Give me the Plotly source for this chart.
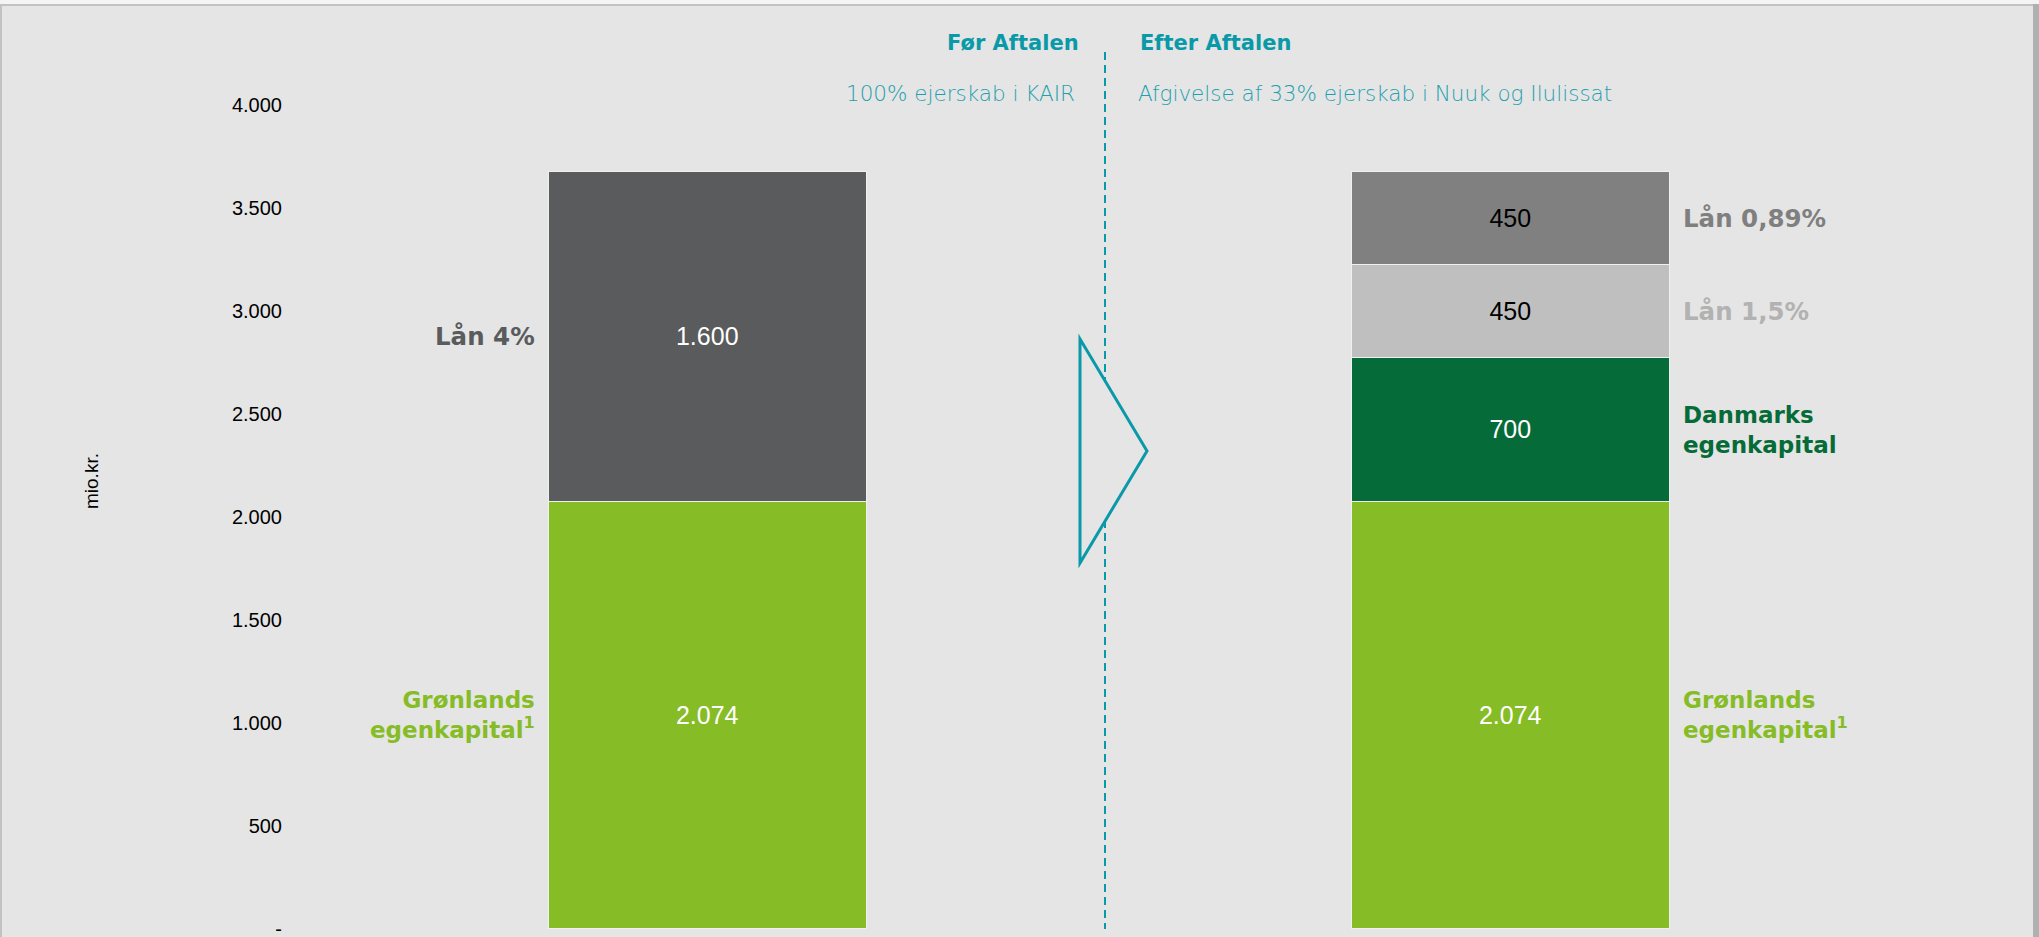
import plotly.graph_objects as go

# ---- data (mio. kr.) ----
stages = ["Før Aftalen", "Efter Aftalen"]

groenland_stages = ["Før Aftalen", "Efter Aftalen"]
groenland_values = [2074, 2074]

laan4_stages = ["Før Aftalen"]
laan4_values = [1600]

danmark_stages = ["Efter Aftalen"]
danmark_values = [700]

laan15_stages = ["Efter Aftalen"]
laan15_values = [450]

laan089_stages = ["Efter Aftalen"]
laan089_values = [450]

y_tick_values = [0, 500, 1000, 1500, 2000, 2500, 3000, 3500, 4000]
y_tick_labels = ["-", "500", "1.000", "1.500", "2.000", "2.500", "3.000", "3.500", "4.000"]

headers = ["Før Aftalen", "Efter Aftalen"]
subheaders = ["100% ejerskab i KAIR", "Afgivelse af 33% ejerskab i Nuuk og Ilulissat"]

# ---- styling ----
W, H = 2039, 937
PLOT_L, PLOT_R, PLOT_T, PLOT_B = 290, 2030, 105, 929
BG = "#E5E5E5"
TEAL = "#0A99A8"
TEAL_LIGHT = "#1FA0AE"
BAR_W = 0.396
X_RANGE = [-0.5205, 1.6464]
NUM_FONT = "Liberation Sans, Arial, sans-serif"
LABEL_FONT = "DejaVu Sans, Verdana, sans-serif"


def px_x(p):
    return (p - PLOT_L) / (PLOT_R - PLOT_L)


def px_y(p):
    return (PLOT_B - p) / (PLOT_B - PLOT_T)


series = [
    dict(stages=groenland_stages, values=groenland_values, color="#86BC25",
         text_color="white", label="Grønlands<br>egenkapital<sup>1</sup>", label_color="#86BC25",
         label_size=23),
    dict(stages=laan4_stages, values=laan4_values, color="#5A5B5D",
         text_color="white", label="Lån 4%", label_color="#5A5B5D", label_size=24.5),
    dict(stages=danmark_stages, values=danmark_values, color="#056B38",
         text_color="white", label="Danmarks<br>egenkapital", label_color="#056B38",
         label_size=23),
    dict(stages=laan15_stages, values=laan15_values, color="#BFBFBF",
         text_color="black", label="Lån 1,5%", label_color="#B2B2B2", label_size=24.5),
    dict(stages=laan089_stages, values=laan089_values, color="#808080",
         text_color="black", label="Lån 0,89%", label_color="#7F7F7F", label_size=24.5),
]

fig = go.Figure()
annotations = []
cum = {s: 0 for s in stages}

for s in series:
    fig.add_trace(go.Bar(
        x=s["stages"], y=s["values"], width=BAR_W,
        marker=dict(color=s["color"], line=dict(color="#F0F0F0", width=1.5)),
        texttemplate="%{y:,.0f}", textposition="inside", insidetextanchor="middle",
        textangle=0, constraintext="none",
        textfont=dict(family=NUM_FONT, size=25, color=s["text_color"]),
        hoverinfo="skip", showlegend=False,
    ))
    for st, v in zip(s["stages"], s["values"]):
        mid = cum[st] + v / 2
        cum[st] += v
        idx = stages.index(st)
        left_side = idx == 0
        annotations.append(dict(
            x=idx - BAR_W / 2 if left_side else idx + BAR_W / 2,
            xshift=-12 if left_side else 11,
            y=mid, xref="x", yref="y",
            xanchor="right" if left_side else "left",
            align="right" if left_side else "left",
            yanchor="middle", showarrow=False, text=s["label"],
            font=dict(family=LABEL_FONT, size=s["label_size"], color=s["label_color"],
                      weight="bold"),
        ))

# headers above the two stages
annotations += [
    dict(x=px_x(1081), y=px_y(43), xref="paper", yref="paper", xanchor="right", yanchor="middle",
         showarrow=False, text=headers[0],
         font=dict(family=LABEL_FONT, size=21, color=TEAL, weight="bold")),
    dict(x=px_x(1138), y=px_y(43), xref="paper", yref="paper", xanchor="left", yanchor="middle",
         showarrow=False, text=headers[1],
         font=dict(family=LABEL_FONT, size=21, color=TEAL, weight="bold")),
    dict(x=px_x(1077), y=px_y(94), xref="paper", yref="paper", xanchor="right", yanchor="middle",
         showarrow=False, text=subheaders[0],
         font=dict(family=LABEL_FONT, size=21.5, color=TEAL_LIGHT, weight=200)),
    dict(x=px_x(1136), y=px_y(94), xref="paper", yref="paper", xanchor="left", yanchor="middle",
         showarrow=False, text=subheaders[1],
         font=dict(family=LABEL_FONT, size=21.5, color=TEAL_LIGHT, weight=200)),
    dict(x=px_x(91), y=px_y(481), xref="paper", yref="paper", xanchor="center", yanchor="middle",
         showarrow=False, text="mio.kr.", textangle=-90,
         font=dict(family=NUM_FONT, size=19, color="black")),
]

shapes = [
    # frame around the slide
    dict(type="rect", xref="paper", yref="paper", x0=px_x(-5), x1=px_x(W + 5), y0=px_y(-5), y1=px_y(4),
         fillcolor="#F4F4F4", line=dict(width=0), layer="above"),
    dict(type="line", xref="paper", yref="paper", x0=px_x(0), x1=px_x(2034), y0=px_y(5), y1=px_y(5),
         line=dict(color="#C2C2C2", width=2), layer="above"),
    dict(type="line", xref="paper", yref="paper", x0=px_x(1), x1=px_x(1), y0=px_y(5), y1=px_y(H + 5),
         line=dict(color="#C2C2C2", width=2), layer="above"),
    dict(type="rect", xref="paper", yref="paper", x0=px_x(2033), x1=px_x(W + 5), y0=px_y(4), y1=px_y(H + 5),
         fillcolor="#B0B0B0", line=dict(width=0), layer="above"),
    # dashed divider between before/after
    dict(type="line", xref="paper", yref="paper", x0=px_x(1105), x1=px_x(1105), y0=px_y(52), y1=px_y(929),
         line=dict(color=TEAL, width=2, dash="8px,5px"), layer="above"),
    # arrow triangle
    dict(type="path", xref="paper", yref="paper",
         path="M {a},{b} L {c},{d} L {a},{e} Z".format(
             a=px_x(1080), b=px_y(339), c=px_x(1147), d=px_y(451), e=px_y(563)),
         fillcolor=BG, line=dict(color=TEAL, width=3), layer="above"),
]

fig.update_layout(
    width=W, height=H,
    margin=dict(l=PLOT_L, r=W - PLOT_R, t=PLOT_T, b=H - PLOT_B, autoexpand=False),
    paper_bgcolor=BG, plot_bgcolor=BG,
    barmode="stack", bargap=0,
    separators=",.",
    showlegend=False,
    xaxis=dict(type="category", categoryorder="array", categoryarray=stages,
               range=X_RANGE, showticklabels=False, showgrid=False, zeroline=False,
               showline=False, ticks=""),
    yaxis=dict(range=[0, 4000], tickvals=y_tick_values, ticktext=y_tick_labels,
               showgrid=False, zeroline=False, showline=False, ticks="",
               tickfont=dict(family=NUM_FONT, size=20, color="black"),
               ticklabelstandoff=7, ticklabeloverflow="allow"),
    annotations=annotations,
    shapes=shapes,
)

fig.write_html("out.html")
